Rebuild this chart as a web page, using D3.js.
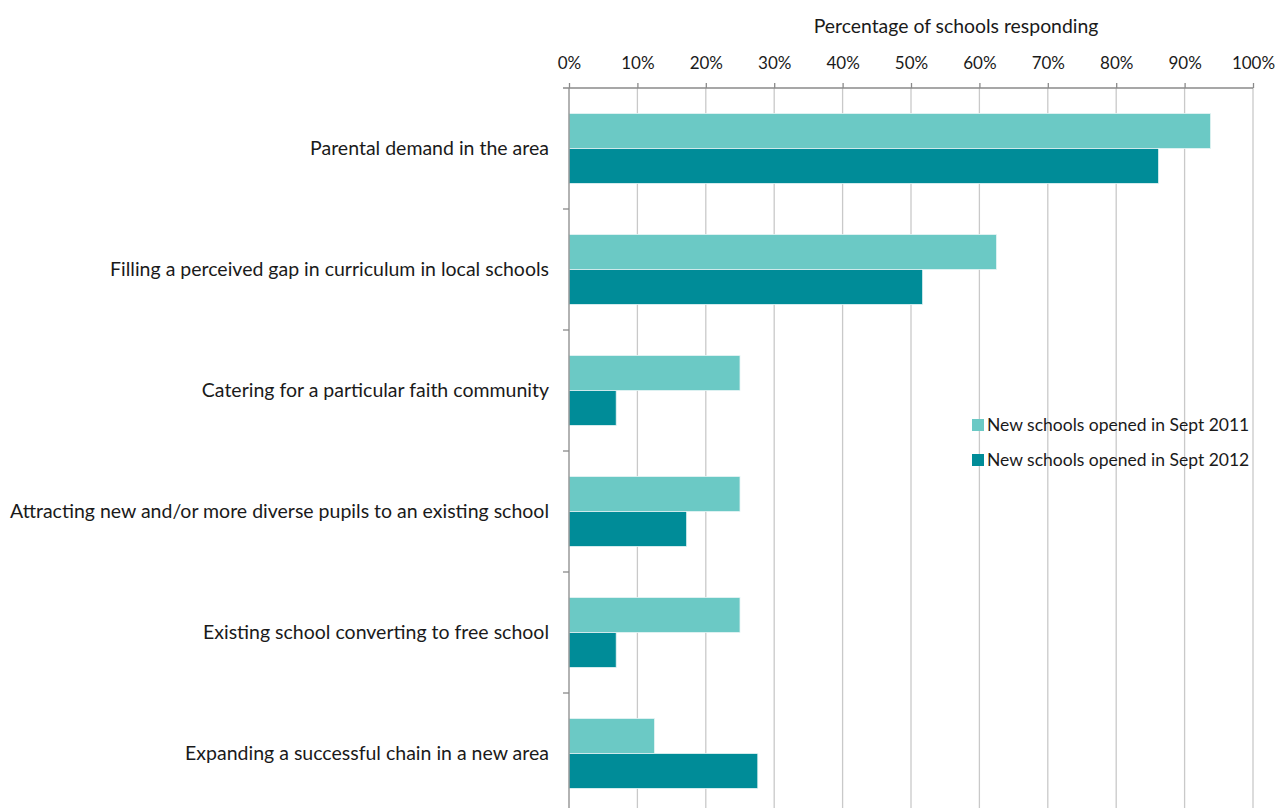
<!DOCTYPE html>
<html>
<head>
<meta charset="utf-8">
<script src="https://cdn.jsdelivr.net/npm/d3@7"></script>
<style>
  html, body { margin: 0; padding: 0; background: #fff; }
  svg { display: block; font-family: Lato, "Open Sans", sans-serif; }
</style>
</head>
<body>
<svg id="chart" width="1277" height="808"></svg>
<script>
// Reasons given for opening a free school (% of schools responding)
const categories = [
  "Parental demand in the area",
  "Filling a perceived gap in curriculum in local schools",
  "Catering for a particular faith community",
  "Attracting new and/or more diverse pupils to an existing school",
  "Existing school converting to free school",
  "Expanding a successful chain in a new area"
];
const seriesNames = ["New schools opened in Sept 2011", "New schools opened in Sept 2012"];
const sept2011 = [93.8, 62.5, 25.0, 25.0, 25.0, 12.5];
const sept2012 = [86.2, 51.7, 6.9, 17.2, 6.9, 27.6];
const xTicks = [0, 10, 20, 30, 40, 50, 60, 70, 80, 90, 100];
const xTitle = "Percentage of schools responding";

const colors = ["#6bc9c5", "#008c98"];

const svg = d3.select("#chart");
const plotLeft = 569, plotRight = 1253, plotTop = 88, plotBottom = 814;

const x = d3.scaleLinear().domain([0, 100]).range([plotLeft, plotRight]);
const y = d3.scaleBand().domain(categories).range([plotTop, plotBottom]).paddingInner(0).paddingOuter(0);
const inner = d3.scaleBand().domain(seriesNames).range([0, y.bandwidth()]).paddingOuter(0.73).paddingInner(0);

// vertical gridlines
svg.append("g")
  .selectAll("line")
  .data(xTicks.slice(1))
  .join("line")
  .attr("x1", d => x(d)).attr("x2", d => x(d))
  .attr("y1", plotTop).attr("y2", plotBottom)
  .attr("stroke", "#c9c9c9").attr("stroke-width", 1.3);

// bars
const rows = categories.map((c, i) => ({ c, vals: [sept2011[i], sept2012[i]] }));
const groups = svg.append("g").selectAll("g")
  .data(rows).join("g")
  .attr("transform", d => `translate(0,${y(d.c)})`);
groups.selectAll("rect")
  .data(d => d.vals.map((v, j) => ({ v, s: seriesNames[j], j })))
  .join("rect")
  .attr("x", x(0))
  .attr("y", d => inner(d.s))
  .attr("width", d => x(d.v) - x(0))
  .attr("height", inner.bandwidth())
  .attr("fill", d => colors[d.j])
  .attr("stroke", "#e6f4f4").attr("stroke-width", 0.8);

// top axis
const xAxis = d3.axisTop(x)
  .tickValues(xTicks)
  .tickSize(5)
  .tickPadding(14)
  .tickFormat(d => d + "%");
const gx = svg.append("g").attr("transform", `translate(0,${plotTop})`).call(xAxis);
gx.select(".domain").remove();
gx.append("line").attr("x1", plotLeft - 6).attr("x2", plotRight).attr("y1", 0).attr("y2", 0)
  .attr("stroke", "#8a8a8a").attr("stroke-width", 1.3);
gx.selectAll(".tick line").attr("stroke", "#8a8a8a").attr("stroke-width", 1.3);
gx.selectAll(".tick text")
  .attr("fill", "#1a1a1a").attr("font-size", 17)
  .style("font-family", "Lato, sans-serif");

// left axis with boundary ticks between categories
const boundaries = d3.range(categories.length + 1).map(i => plotTop + i * y.step());
const gy = svg.append("g");
gy.append("line").attr("x1", plotLeft).attr("x2", plotLeft).attr("y1", plotTop).attr("y2", plotBottom)
  .attr("stroke", "#8a8a8a").attr("stroke-width", 1.3);
gy.selectAll("line.b").data(boundaries.slice(1)).join("line").attr("class", "b")
  .attr("x1", plotLeft - 6).attr("x2", plotLeft).attr("y1", d => d).attr("y2", d => d)
  .attr("stroke", "#8a8a8a").attr("stroke-width", 1.3);
gy.selectAll("text").data(categories).join("text")
  .attr("x", plotLeft - 20)
  .attr("y", d => y(d) + y.bandwidth() / 2)
  .attr("dy", "0.35em")
  .attr("text-anchor", "end")
  .attr("font-size", 19.5)
  .attr("fill", "#1a1a1a")
  .text(d => d);

// axis title
svg.append("text")
  .attr("x", (plotLeft + plotRight) / 2 + 45)
  .attr("y", 33)
  .attr("text-anchor", "middle")
  .attr("font-size", 19.4)
  .attr("fill", "#1a1a1a")
  .text(xTitle);

// legend
const legend = svg.append("g").attr("transform", "translate(972,419)");
const items = legend.selectAll("g").data(seriesNames).join("g")
  .attr("transform", (d, i) => `translate(0,${i * 35})`);
items.append("rect").attr("width", 12).attr("height", 12)
  .attr("fill", (d, i) => colors[i]);
items.append("text").attr("x", 15).attr("y", 6).attr("dy", "0.35em")
  .attr("font-size", 17.5).attr("fill", "#1a1a1a")
  .text(d => d);
</script>
</body>
</html>
